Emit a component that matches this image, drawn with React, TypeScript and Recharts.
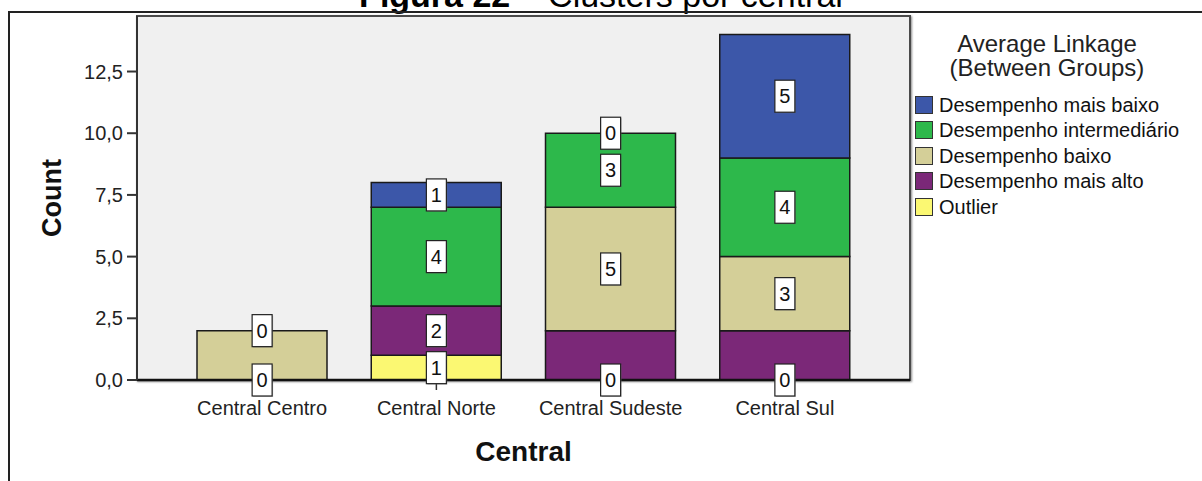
import { BarChart, Bar, XAxis, YAxis, Legend, ReferenceDot, Label } from "recharts";

const centrals = ["Central Centro", "Central Norte", "Central Sudeste", "Central Sul"];

// cluster counts per central, listed bottom of the stack first
const outlier = [0, 1, 0, 0];
const maisAlto = [0, 2, 2, 2];
const baixo = [2, 0, 5, 3];
const intermediario = [0, 4, 3, 4];
const maisBaixo = [0, 1, 0, 5];

// segments that get a count box
const outlierBoxes = [true, true, true, true];
const maisAltoBoxes = [false, true, false, false];
const baixoBoxes = [false, false, true, true];
const intermediarioBoxes = [true, true, true, true];
const maisBaixoBoxes = [false, true, true, true];

const yTicks = [0, 2.5, 5, 7.5, 10, 12.5];

const series = [
  { key: "outlier", name: "Outlier", color: "#FBF872", values: outlier, boxes: outlierBoxes },
  { key: "maisAlto", name: "Desempenho mais alto", color: "#7B2878", values: maisAlto, boxes: maisAltoBoxes },
  { key: "baixo", name: "Desempenho baixo", color: "#D4CF98", values: baixo, boxes: baixoBoxes },
  { key: "intermediario", name: "Desempenho intermediário", color: "#2DB84B", values: intermediario, boxes: intermediarioBoxes },
  { key: "maisBaixo", name: "Desempenho mais baixo", color: "#3C57A9", values: maisBaixo, boxes: maisBaixoBoxes },
];

const data = centrals.map((central, i) => {
  const row: Record<string, string | number> = { central };
  series.forEach((s) => {
    row[s.key] = s.values[i];
  });
  return row;
});

// one box per shown segment, placed at the middle of the segment in the stack
const boxes: { central: string; mid: number; value: number; id: string }[] = [];
centrals.forEach((central, i) => {
  let base = 0;
  series.forEach((s) => {
    const v = s.values[i];
    if (s.boxes[i]) boxes.push({ central, mid: base + v / 2, value: v, id: `${s.key}-${i}` });
    base += v;
  });
});

const FONT = "Arial, 'Liberation Sans', sans-serif";

const countBox = (value: number) => (props: any) => {
  const { cx, cy } = props;
  return (
    <g>
      <rect x={cx - 9} y={cy - 15} width={20} height={32} fill="#777" opacity={0.45} />
      <rect x={cx - 10} y={cy - 16} width={20} height={32} fill="#fff" stroke="#222" strokeWidth={1.2} />
      <text x={cx} y={cy + 7} textAnchor="middle" fontSize={20} fill="#111" fontFamily={FONT}>
        {value}
      </text>
    </g>
  );
};

// legend lists the clusters top of the stack first
const renderLegend = () => (
  <div style={{ fontFamily: FONT, color: "#222", whiteSpace: "nowrap" }}>
    <div style={{ textAlign: "center", fontSize: 24, lineHeight: "24px", marginBottom: 12 }}>
      Average Linkage
      <br />
      (Between Groups)
    </div>
    {[...series].reverse().map((s) => (
      <div key={s.key} style={{ display: "flex", alignItems: "center", height: 25.5 }}>
        <span
          style={{
            width: 18,
            height: 18,
            flex: "none",
            boxSizing: "border-box",
            background: s.color,
            border: "1px solid #333",
            marginRight: 6,
          }}
        />
        <span style={{ fontSize: 20, lineHeight: "20px", color: "#111" }}>{s.name}</span>
      </div>
    ))}
  </div>
);

export default function App() {
  return (
    <div
      style={{
        position: "absolute",
        left: 0,
        top: 0,
        width: 1202,
        height: 481,
        overflow: "hidden",
        background: "#fff",
        fontFamily: FONT,
      }}
    >
      <div
        style={{
          position: "absolute",
          left: 0,
          top: -22,
          width: 1202,
          textAlign: "center",
          fontSize: 34,
          lineHeight: "34px",
          color: "#000",
        }}
      >
        <b>Figura 22</b> – Clusters por central
      </div>
      <div
        style={{
          position: "absolute",
          left: 8,
          top: 11,
          width: 1200,
          height: 480,
          borderTop: "2px solid #222",
          borderLeft: "2px solid #222",
        }}
      />
      <div
        style={{
          position: "absolute",
          left: 136,
          top: 15,
          width: 775,
          height: 366,
          boxSizing: "border-box",
          background: "#F0F0F0",
          border: "2px solid #4a4a4a",
          boxShadow: "1px 1px 2px rgba(0,0,0,0.45)",
        }}
      />
      <div style={{ position: "absolute", left: 0, top: 0 }}>
        <BarChart
          width={1202}
          height={481}
          data={data}
          margin={{ top: 16, right: 292, bottom: 0, left: 0 }}
          barSize={130}
        >
          <XAxis
            dataKey="central"
            height={101}
            padding={{ left: 38, right: 38 }}
            tickSize={10}
            tickMargin={11}
            tick={{ fill: "#222", fontSize: 20 }}
            tickLine={{ stroke: "#333", strokeWidth: 1.5 }}
            axisLine={{ stroke: "#111", strokeWidth: 2.5 }}
          >
            <Label
              value="Central"
              position="insideBottom"
              offset={20}
              style={{ fontSize: 28, fontWeight: "bold", fill: "#111" }}
            />
          </XAxis>
          <YAxis
            width={137}
            domain={[0, 14.75]}
            ticks={yTicks}
            tickSize={10}
            tickMargin={4}
            tickFormatter={(v: number) => v.toFixed(1).replace(".", ",")}
            tick={{ fill: "#222", fontSize: 20 }}
            tickLine={{ stroke: "#333", strokeWidth: 2 }}
            axisLine={{ stroke: "#333", strokeWidth: 2 }}
          >
            <Label
              value="Count"
              angle={-90}
              position="insideLeft"
              offset={51}
              style={{ textAnchor: "middle", fontSize: 27, fontWeight: "bold", fill: "#111" }}
            />
          </YAxis>
          <Legend
            layout="vertical"
            align="center"
            verticalAlign="middle"
            wrapperStyle={{ left: 915, top: 32, width: 264 }}
            content={renderLegend}
          />
          {series.map((s) => (
            <Bar
              key={s.key}
              dataKey={s.key}
              name={s.name}
              stackId="clusters"
              fill={s.color}
              stroke="#1a1a1a"
              strokeWidth={1.5}
              isAnimationActive={false}
            />
          ))}
          {boxes.map((b) => (
            <ReferenceDot
              key={b.id}
              x={b.central}
              y={b.mid}
              r={0}
              ifOverflow="visible"
              shape={countBox(b.value)}
            />
          ))}
        </BarChart>
      </div>
    </div>
  );
}
